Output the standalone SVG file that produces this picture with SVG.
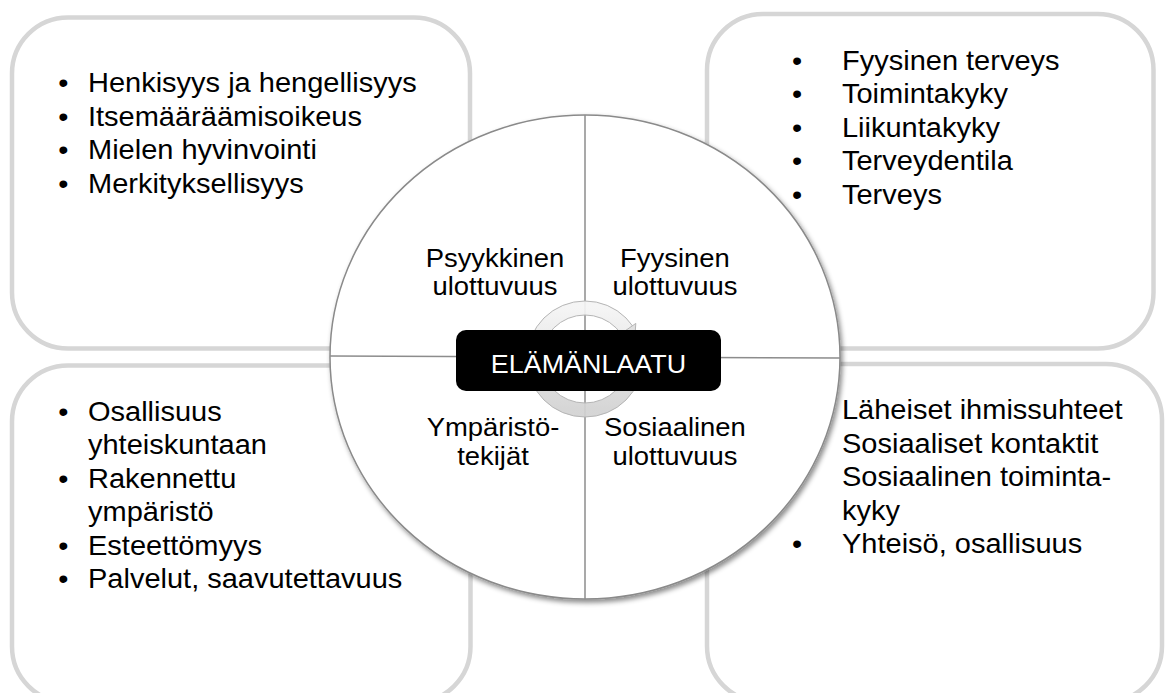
<svg xmlns="http://www.w3.org/2000/svg" width="1168" height="693" viewBox="0 0 1168 693">
<defs>
<style>
.box{fill:#ffffff;stroke:#d6d6d6;stroke-width:4.5}
.t{font-family:"Liberation Sans",Arial,sans-serif;font-size:27.5px;fill:#000}
.b{font-family:"Liberation Sans",Arial,sans-serif;font-size:27.5px;fill:#000;text-anchor:middle}
.lbl{font-family:"Liberation Sans",Arial,sans-serif;font-size:26px;fill:#000;text-anchor:middle}
.ctr{font-family:"Liberation Sans",Arial,sans-serif;font-size:25.5px;fill:#fff;text-anchor:middle}
.qline{stroke:#8c8c8c;stroke-width:1.5;fill:none}
</style>
<filter id="shadow" x="-10%" y="-10%" width="125%" height="125%">
<feDropShadow dx="2" dy="3" stdDeviation="2.5" flood-color="#000" flood-opacity="0.45"/>
</filter>
<linearGradient id="ringGrad" x1="0" y1="0" x2="0" y2="1">
<stop offset="0" stop-color="#f4f4f4"/>
<stop offset="1" stop-color="#d2d2d2"/>
</linearGradient>
</defs>
<rect width="1168" height="693" fill="#ffffff"/>

<g id="box-psyykkinen">
<rect class="box" x="12" y="17.5" width="458" height="331" rx="56" ry="56"/>
<g transform="scale(1.055,1)">
<text class="b" x="60" y="92.3">•</text><text class="t" x="83.4" y="92.3">Henkisyys ja hengellisyys</text>
<text class="b" x="60" y="125.8">•</text><text class="t" x="83.4" y="125.8">Itsemääräämisoikeus</text>
<text class="b" x="60" y="159.3">•</text><text class="t" x="83.4" y="159.3">Mielen hyvinvointi</text>
<text class="b" x="60" y="192.8">•</text><text class="t" x="83.4" y="192.8">Merkityksellisyys</text>
</g>
</g>

<g id="box-fyysinen">
<rect class="box" x="707" y="14" width="446.5" height="334.5" rx="56" ry="56"/>
<g transform="scale(1.055,1)">
<text class="b" x="755.5" y="70">•</text><text class="t" x="798.1" y="70">Fyysinen terveys</text>
<text class="b" x="755.5" y="103.5">•</text><text class="t" x="798.1" y="103.5">Toimintakyky</text>
<text class="b" x="755.5" y="137">•</text><text class="t" x="798.1" y="137">Liikuntakyky</text>
<text class="b" x="755.5" y="170.5">•</text><text class="t" x="798.1" y="170.5">Terveydentila</text>
<text class="b" x="755.5" y="204">•</text><text class="t" x="798.1" y="204">Terveys</text>
</g>
</g>

<g id="box-ymparisto">
<rect class="box" x="12" y="365.5" width="458.5" height="337" rx="56" ry="56"/>
<g transform="scale(1.055,1)">
<text class="b" x="60" y="421">•</text><text class="t" x="83.4" y="421">Osallisuus</text>
<text class="t" x="83.4" y="454.5">yhteiskuntaan</text>
<text class="b" x="60" y="488">•</text><text class="t" x="83.4" y="488">Rakennettu</text>
<text class="t" x="83.4" y="521.5">ympäristö</text>
<text class="b" x="60" y="555">•</text><text class="t" x="83.4" y="555">Esteettömyys</text>
<text class="b" x="60" y="588.5">•</text><text class="t" x="83.4" y="588.5">Palvelut, saavutettavuus</text>
</g>
</g>

<g id="box-sosiaalinen">
<rect class="box" x="707" y="364" width="455" height="338" rx="56" ry="56"/>
<g transform="scale(1.055,1)">
<text class="t" x="798.1" y="419.5">Läheiset ihmissuhteet</text>
<text class="t" x="798.1" y="453">Sosiaaliset kontaktit</text>
<text class="t" x="798.1" y="486.5">Sosiaalinen toiminta-</text>
<text class="t" x="798.1" y="520">kyky</text>
<text class="b" x="755.5" y="553.5">•</text><text class="t" x="798.1" y="553.5">Yhteisö, osallisuus</text>
</g>
</g>

<g id="wheel">
<ellipse cx="585" cy="357" rx="255" ry="242" fill="#ffffff" stroke="#8a8a8a" stroke-width="1.5" filter="url(#shadow)"/>
<line class="qline" x1="585" y1="115" x2="585" y2="599"/>
<line class="qline" x1="330" y1="356" x2="585" y2="357"/>
<line class="qline" x1="585" y1="357" x2="840" y2="358"/>
<g transform="scale(1.055,1)">
<text class="lbl" x="469.2" y="266.7">Psyykkinen</text>
<text class="lbl" x="469.2" y="295.5">ulottuvuus</text>
<text class="lbl" x="639.8" y="266.7">Fyysinen</text>
<text class="lbl" x="639.8" y="295.5">ulottuvuus</text>
<text class="lbl" x="467.3" y="436">Ympäristö-</text>
<text class="lbl" x="467.3" y="465">tekijät</text>
<text class="lbl" x="639.8" y="436">Sosiaalinen</text>
<text class="lbl" x="639.8" y="465">ulottuvuus</text>
</g>
</g>

<g id="connectors">
<circle cx="585" cy="359" r="51" fill="none" stroke="url(#ringGrad)" stroke-width="14" opacity="0.92"/>
<circle cx="585" cy="359" r="58" fill="none" stroke="#b5b5b5" stroke-width="1"/>
<circle cx="585" cy="359" r="44" fill="none" stroke="#b5b5b5" stroke-width="1"/>
<polygon points="617.8,336 635.8,323.4 634.3,345.8" fill="#e0e0e0" stroke="#b5b5b5" stroke-width="1"/>
</g>

<g id="center">
<rect x="456" y="330" width="265" height="61" rx="10" ry="10" fill="#000000"/>
<g transform="scale(1.055,1)">
<text class="ctr" x="557.8" y="372.7">ELÄMÄNLAATU</text>
</g>
</g>
</svg>
